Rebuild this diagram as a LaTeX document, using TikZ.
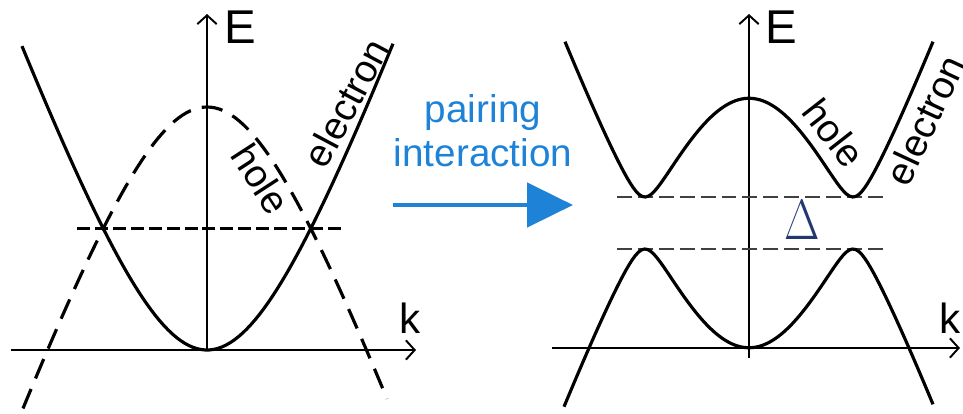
\documentclass[tikz,border=0pt]{standalone}
\usepackage{fontspec}
\setmainfont{Liberation Sans}
\usetikzlibrary{arrows.meta}

\definecolor{pairblue}{RGB}{30,130,215}
\definecolor{gapnavy}{RGB}{35,55,115}

\begin{document}
\begin{tikzpicture}[
  x=0.02cm, y=-0.02cm,
  declare function={disp(\k)=275.5*(sqrt(1+(\k/100)^2)-1);
                    band(\k)=10*sqrt(((disp(\k)-122)/10)^2+6.76);},
  axis/.style   = {line width=1.1pt, -{Straight Barb[length=5pt,width=11pt]}},
  curve/.style  = {line width=1.8pt, line join=round},
  hcurve/.style = {curve, dash pattern=on 12pt off 6.5pt},
  lvl/.style    = {line width=1.2pt, dash pattern=on 7.4pt off 2.8pt},
  gaplvl/.style = {line width=1.5pt, black!75, dash pattern=on 8.5pt off 3.4pt},
  pairarr/.style= {line width=2.8pt, pairblue,
                   -{Triangle[length=0.92cm,width=0.88cm]}},
  elbl/.style   = {font=\fontsize{27}{30}\selectfont, inner sep=0pt},
  klbl/.style   = {font=\fontsize{24}{28}\selectfont, inner sep=0pt},
  blbl/.style   = {font=\fontsize{22}{26}\selectfont, inner sep=0pt},
]

\useasboundingbox (0,0) rectangle (963,413);

% left panel: free bands
\coordinate (lo)  at (207,350);
\coordinate (lx0) at (11,350);
\coordinate (lx1) at (416,350);
\coordinate (ly1) at (207,14);
\draw[axis] (lx0) -- (lx1);
\draw[axis] (lo) -- (ly1);
\node[elbl] (lE) at (240,27) {E};
\node[klbl] (lk) at (410,318) {k};

\coordinate (lf0) at (77,228.5);
\coordinate (lf1) at (345,228.5);
\draw[lvl] (lf0) -- (lf1);

\draw[curve]  plot[domain=-185:186, samples=90] ({207+\x},{350-disp(\x)});
\draw[hcurve] plot[domain=-184:180, samples=90] ({207+\x},{107+disp(\x)});

\node[blbl, rotate=62]  (lelec) at (346,103) {electron};
\node[blbl, rotate=-57] (lhole) at (261,179) {hole};

% pairing arrow
\coordinate (pa) at (393,205);
\coordinate (pb) at (573,205);
\draw[pairarr] (pa) -- (pb);
\node[blbl, text=pairblue, align=center] (pair) at (483,131)
  {pairing\\[-1pt]interaction};

% right panel: gapped bands
\coordinate (ro)  at (749,358);
\coordinate (rx0) at (552,348);
\coordinate (rx1) at (960,348);
\coordinate (ry1) at (749,14);
\draw[axis] (rx0) -- (rx1);
\draw[axis] (ro) -- (ry1);
\node[elbl] (rE) at (781,27) {E};
\node[klbl] (rk) at (950,318) {k};

\coordinate (ru0) at (617,197);
\coordinate (ru1) at (887,197);
\coordinate (rd0) at (617,249);
\coordinate (rd1) at (887,249);
\draw[gaplvl] (ru0) -- (ru1);
\draw[gaplvl] (rd0) -- (rd1);

\draw[curve] plot[domain=-184:184, samples=120] ({749+\x},{223-band(\x)});
\draw[curve] plot[domain=-185:184, samples=120] ({749+\x},{223+band(\x)});

\node[blbl, rotate=-52] (rhole) at (834,133) {hole};
\node[blbl, rotate=65]  (relec) at (925,120) {electron};
\node[font=\fontsize{24.88}{26}\selectfont, text=gapnavy, inner sep=0pt] (gap)
  at (802,220) {\scalebox{1.05}[1.3]{$\Delta$}};

\end{tikzpicture}
\end{document}
